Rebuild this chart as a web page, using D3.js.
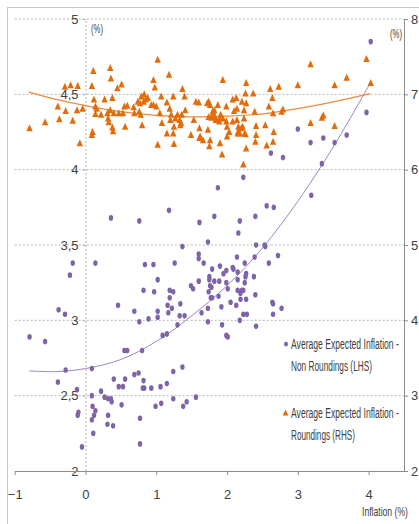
<!DOCTYPE html>
<html>
<head>
<meta charset="utf-8">
<script src="https://cdn.jsdelivr.net/npm/d3@7"></script>
<style>
  body { margin: 0; background: #fff; }
  svg text { font-family: "Liberation Sans Narrow", "Liberation Sans", Arial, sans-serif; fill: #404040; }
</style>
</head>
<body>
<div id="graphic"></div>
<script>
// Average expected inflation vs inflation (non roundings on LHS, roundings on RHS)

let xTicks = [-1, 0, 1, 2, 3, 4];
let leftTicks = [2, 2.5, 3, 3.5, 4, 4.5, 5];
let rightTicks = [2, 3, 4, 5, 6, 7, 8];

// [inflation, expected inflation] - LHS
let nonRoundings = [
  [4.03,4.85],[3.97,4.38],[3.00,4.27],[3.18,4.18],[3.36,4.21],[3.52,4.18],[3.69,4.23],[2.62,4.11],[2.79,4.08],[3.34,4.04],[2.23,3.95],
  [3.19,3.83],[1.87,3.88],[0.36,3.68],[0.76,3.66],[1.18,3.73],[1.61,3.65],[1.82,3.69],[2.18,3.66],[2.16,3.58],[2.40,3.69],[2.56,3.76],[2.66,3.75],
  [1.73,3.52],[1.37,3.49],[2.41,3.50],[2.53,3.50],[2.54,3.49],
  [0.14,3.38],[-0.18,3.38],[-0.22,3.30],[-0.38,3.07],[-0.29,3.04],[-0.79,2.89],[-0.57,2.86],
  [0.46,3.10],[0.69,3.06],[0.76,2.99],[0.89,3.01],[0.82,3.20],[0.97,3.19],[0.84,3.37],[0.96,3.37],[1.02,3.27],[1.02,3.06],[1.02,3.02],
  [1.26,3.38],[1.19,3.20],[1.24,3.19],[1.19,3.15],[1.16,3.10],[1.22,3.08],[1.17,3.05],[1.34,3.11],[1.33,3.03],[1.40,3.03],[1.30,2.97],[1.15,2.91],[1.09,2.90],
  [1.49,3.23],[1.52,3.21],[1.60,3.44],[1.60,3.41],[1.67,3.38],[1.60,3.26],[1.75,3.29],[1.75,3.27],[1.74,3.19],[1.76,3.23],[1.78,3.22],[1.79,3.34],[1.77,3.15],[1.79,3.15],[1.73,3.08],[1.64,3.05],[1.73,2.99],
  [1.82,3.26],[1.89,3.26],[1.90,3.36],[1.88,3.16],[1.92,3.09],[1.93,2.97],[1.99,2.90],[2.01,2.89],[1.95,3.31],[1.99,3.33],[1.99,3.25],[2.01,3.21],[2.08,3.35],[2.09,3.34],[2.05,3.12],[2.13,3.10],
  [2.14,3.42],[2.15,3.32],[2.15,3.27],[2.15,3.20],[2.21,3.20],[2.19,3.18],[2.19,3.14],[2.23,3.20],[2.25,3.25],[2.26,3.29],[2.27,3.31],[2.25,3.38],[2.39,3.42],[2.38,3.29],[2.27,3.14],[2.23,3.04],[2.28,3.04],[2.18,3.00],
  [2.40,3.17],[2.41,2.96],[2.59,3.38],[2.72,3.43],[2.64,3.12],[2.65,3.11],[2.65,3.04],[2.77,3.08],
  [0.55,2.80],[0.59,2.80],[0.80,2.80],[-0.28,2.67],[0.09,2.68],[-0.39,2.59],[-0.12,2.54],[0.09,2.50],[0.10,2.43],[-0.10,2.39],[-0.11,2.37],[0.09,2.34],[0.14,2.40],[0.12,2.37],[0.11,2.25],[-0.05,2.16],
  [0.22,2.53],[0.27,2.49],[0.32,2.48],[0.36,2.48],[0.37,2.46],[0.32,2.37],[0.31,2.31],[0.39,2.30],[0.40,2.61],[0.47,2.56],[0.53,2.56],[0.56,2.61],[0.51,2.44],[0.69,2.64],[0.75,2.65],[0.82,2.60],[0.81,2.55],[0.83,2.55],
  [0.77,2.35],[0.77,2.18],[0.93,2.55],[1.06,2.56],[1.15,2.58],[0.99,2.43],[1.07,2.45],[1.24,2.66],[1.37,2.69],[1.24,2.48],[1.38,2.43],[1.43,2.46],[1.56,2.49]
];

// [inflation, expected inflation] - RHS
let roundings = [
  [-0.79,6.55],[-0.57,6.63],[-0.39,6.84],[-0.37,6.67],[-0.29,7.10],[-0.28,6.78],[-0.21,7.12],[-0.18,6.65],[-0.11,7.11],[-0.12,6.79],[-0.08,6.35],[-0.04,6.81],
  [0.09,7.11],[0.11,7.31],[0.09,6.46],[0.10,6.50],[0.12,6.93],[0.14,6.84],[0.16,6.81],[0.14,6.74],[0.22,6.73],[0.27,6.93],[0.31,6.75],[0.32,6.68],[0.33,6.63],[0.35,7.35],[0.36,7.21],[0.38,6.95],[0.38,6.56],[0.39,6.51],[0.35,6.79],
  [0.40,6.75],[0.47,6.75],[0.53,6.75],[0.55,6.84],[0.45,7.08],[0.51,7.13],[0.56,6.57],[0.59,6.85],[0.68,6.83],[0.69,6.75],
  [0.74,6.90],[0.77,6.88],[0.76,6.77],[0.78,6.73],[0.80,6.59],[0.79,6.97],[0.83,7.00],[0.82,6.90],[0.85,6.93],[0.88,6.95],
  [0.93,6.86],[0.96,6.86],[1.00,6.84],[0.96,7.19],[0.98,7.09],[1.02,7.46],[1.02,6.33],[1.05,6.75],[1.08,6.62],[1.07,6.97],
  [1.15,6.89],[1.15,6.48],[1.18,7.26],[1.19,6.81],[1.21,6.73],[1.20,6.66],[1.24,6.97],[1.24,6.48],[1.25,6.34],[1.25,6.57],
  [1.27,6.68],[1.30,6.73],[1.33,6.66],[1.35,6.62],[1.36,6.73],[1.34,6.59],[1.37,7.07],[1.40,6.97],[1.41,6.79],[1.49,6.46],[1.53,6.66],
  [1.56,6.90],[1.60,6.89],[1.61,6.55],[1.62,6.44],[1.66,6.39],[1.61,6.42],[1.76,6.39],
  [1.72,6.88],[1.74,6.90],[1.76,6.86],[1.74,6.70],[1.73,6.53],[1.75,6.31],[1.78,6.69],[1.80,6.75],[1.82,6.79],[1.80,6.78],[1.83,6.70],
  [1.84,6.66],[1.87,6.86],[1.89,6.64],[1.91,6.73],[1.89,6.68],[1.94,6.68],[1.99,6.64],[1.90,6.35],[1.93,6.20],[1.94,7.19],
  [1.99,6.84],[2.00,6.57],[2.00,6.44],[2.03,6.50],[2.08,6.93],[2.10,6.78],[2.13,6.95],[2.08,6.64],
  [2.14,6.81],[2.14,6.66],[2.16,6.57],[2.16,6.51],[2.18,6.48],[2.20,6.55],[2.22,6.57],[2.15,6.48],[2.26,6.47],
  [2.21,6.90],[2.24,6.79],[2.24,6.68],[2.23,6.07],[2.26,7.01],[2.27,7.15],[2.27,6.88],[2.25,6.48],[2.27,6.28],
  [2.37,7.01],[2.39,6.77],[2.41,6.58],[2.41,6.46],[2.40,6.37],[2.54,6.59],[2.56,6.32],[2.59,6.84],[2.61,7.07],
  [2.64,6.95],[2.65,6.75],[2.66,6.50],[2.65,6.37],[2.73,7.10],[2.77,6.77],[2.79,6.80],
  [3.00,7.12],[3.18,7.40],[3.18,6.62],[3.34,6.69],[3.36,6.72],[3.52,7.12],[3.52,6.58],[3.69,7.22],[3.97,7.47],[4.03,7.15]
];

// polynomial trend lines
let nonRoundingsTrend = [[-0.8,2.664],[-0.4,2.66],[0,2.68],[0.5,2.74],[1,2.86],[1.5,3.03],[2,3.23],[2.5,3.48],[3,3.79],[3.5,4.15],[4.03,4.58]];
let roundingsTrend = [[-0.8,7.03],[-0.4,6.93],[0,6.85],[0.5,6.77],[1,6.72],[1.5,6.70],[2,6.71],[2.5,6.74],[3,6.81],[3.5,6.90],[4.02,7.01]];

let purple = "#7f63a8";
let orange = "#e36c0a";

let svg = d3.select("#graphic")
  .append("svg")
    .attr("width", 419)
    .attr("height", 524);

// chart frame
svg.append("rect")
  .attr("x", 7.5).attr("y", 7.5)
  .attr("width", 430).attr("height", 530)
  .attr("fill", "none")
  .attr("stroke", "#c8c8c8");

let x = d3.scaleLinear().domain([-1, 4.5]).range([14.7, 404]);
let yL = d3.scaleLinear().domain([2, 5]).range([471, 19]);
let yR = d3.scaleLinear().domain([2, 8]).range([471, 19]);

let comma = d3.formatLocale({decimal: ",", thousands: ".", grouping: [3], currency: ["", ""]}).format("~g");

// squeeze a text horizontally to a given width (the original uses a narrow font)
function narrow(sel, px, py, w) {
  sel.each(function() {
    let natural = this.getComputedTextLength();
    let k = natural > 0 ? w / natural : 1;
    d3.select(this).attr("transform", "translate(" + px + "," + py + ") scale(" + k + ",1)");
  });
}

// horizontal gridlines
svg.append("g")
  .selectAll("line")
  .data(leftTicks.slice(1))
  .enter()
  .append("line")
    .attr("x1", x(-1)).attr("x2", x(4.5))
    .attr("y1", d => yL(d)).attr("y2", d => yL(d))
    .attr("stroke", "#b5b5b5")
    .attr("stroke-dasharray", "2,2");

// left axis sits on x = 0
let left = svg.append("g")
  .attr("transform", "translate(" + x(0) + ",0)")
  .call(d3.axisLeft(yL).tickValues(leftTicks).tickFormat(comma).tickSize(3).tickPadding(4));
left.select(".domain").attr("stroke", "#b5b5b5").attr("stroke-dasharray", "2,2");
left.selectAll(".tick line").attr("stroke", "#b5b5b5");
left.selectAll("text").style("font-size", "13px").attr("fill", "#404040");

// bottom axis
let bottom = svg.append("g")
  .attr("transform", "translate(0," + yL(2) + ")")
  .call(d3.axisBottom(x).tickValues(xTicks).tickFormat(d3.format("d")).tickSize(4).tickPadding(15).tickSizeOuter(0));
bottom.select(".domain").attr("stroke", "#8c8c8c");
bottom.selectAll(".tick line").attr("stroke", "#8c8c8c");
bottom.selectAll("text").style("font-size", "13px").attr("fill", "#404040");

// right axis
let right = svg.append("g")
  .attr("transform", "translate(" + x(4.5) + ",0)")
  .call(d3.axisRight(yR).tickValues(rightTicks).tickFormat(d3.format("d")).tickSize(4).tickPadding(3).tickSizeOuter(0));
right.select(".domain").attr("stroke", "#8c8c8c");
right.selectAll(".tick line").attr("stroke", "#8c8c8c");
right.selectAll("text").style("font-size", "13px").attr("fill", "#404040");

// units
svg.append("text").style("font-size", "13px").text("(%)").call(narrow, 91, 33, 12);
svg.append("text").style("font-size", "13px").text("(%)").call(narrow, 390, 38, 12);
svg.append("text").style("font-size", "13px").text("Inflation (%)").call(narrow, 362, 516, 46);

// trend lines
let line = (yScale) => d3.line()
  .x(d => x(d[0]))
  .y(d => yScale(d[1]))
  .curve(d3.curveCatmullRom);

svg.append("path")
  .datum(nonRoundingsTrend)
  .attr("d", line(yL))
  .attr("fill", "none")
  .attr("stroke", "#9b86c2")
  .attr("stroke-width", 1);

// purple dots
svg.append("g")
  .selectAll("ellipse")
  .data(nonRoundings)
  .enter()
  .append("ellipse")
    .attr("cx", d => x(d[0]))
    .attr("cy", d => yL(d[1]))
    .attr("rx", 2.2)
    .attr("ry", 2.8)
    .attr("fill", purple);

svg.append("path")
  .datum(roundingsTrend)
  .attr("d", line(yR))
  .attr("fill", "none")
  .attr("stroke", "#ee8a3c")
  .attr("stroke-width", 1.2);

// orange triangles
svg.append("g")
  .selectAll("path")
  .data(roundings)
  .enter()
  .append("path")
    .attr("d", "M0,-4L3.2,3L-3.2,3Z")
    .attr("transform", d => "translate(" + x(d[0]) + "," + yR(d[1]) + ")")
    .attr("fill", orange);

// legend
let legendRows = [
  {y: 344, text: "Average Expected Inflation -", w: 108},
  {y: 366, text: "Non Roundings (LHS)", w: 81},
  {y: 413, text: "Average Expected Inflation -", w: 108},
  {y: 435, text: "Roundings (RHS)", w: 64}
];
let legend = svg.append("g");
legend.append("ellipse").attr("cx", 286).attr("cy", 344).attr("rx", 2).attr("ry", 2.6).attr("fill", purple);
legend.append("path").attr("d", "M0,-3.5L2.8,2.5L-2.8,2.5Z").attr("transform", "translate(285.5,413)").attr("fill", orange);
legendRows.forEach(function(d) {
  legend.append("text")
    .style("font-size", "14px")
    .text(d.text)
    .call(narrow, 291, d.y + 5, d.w);
});
</script>
</body>
</html>
